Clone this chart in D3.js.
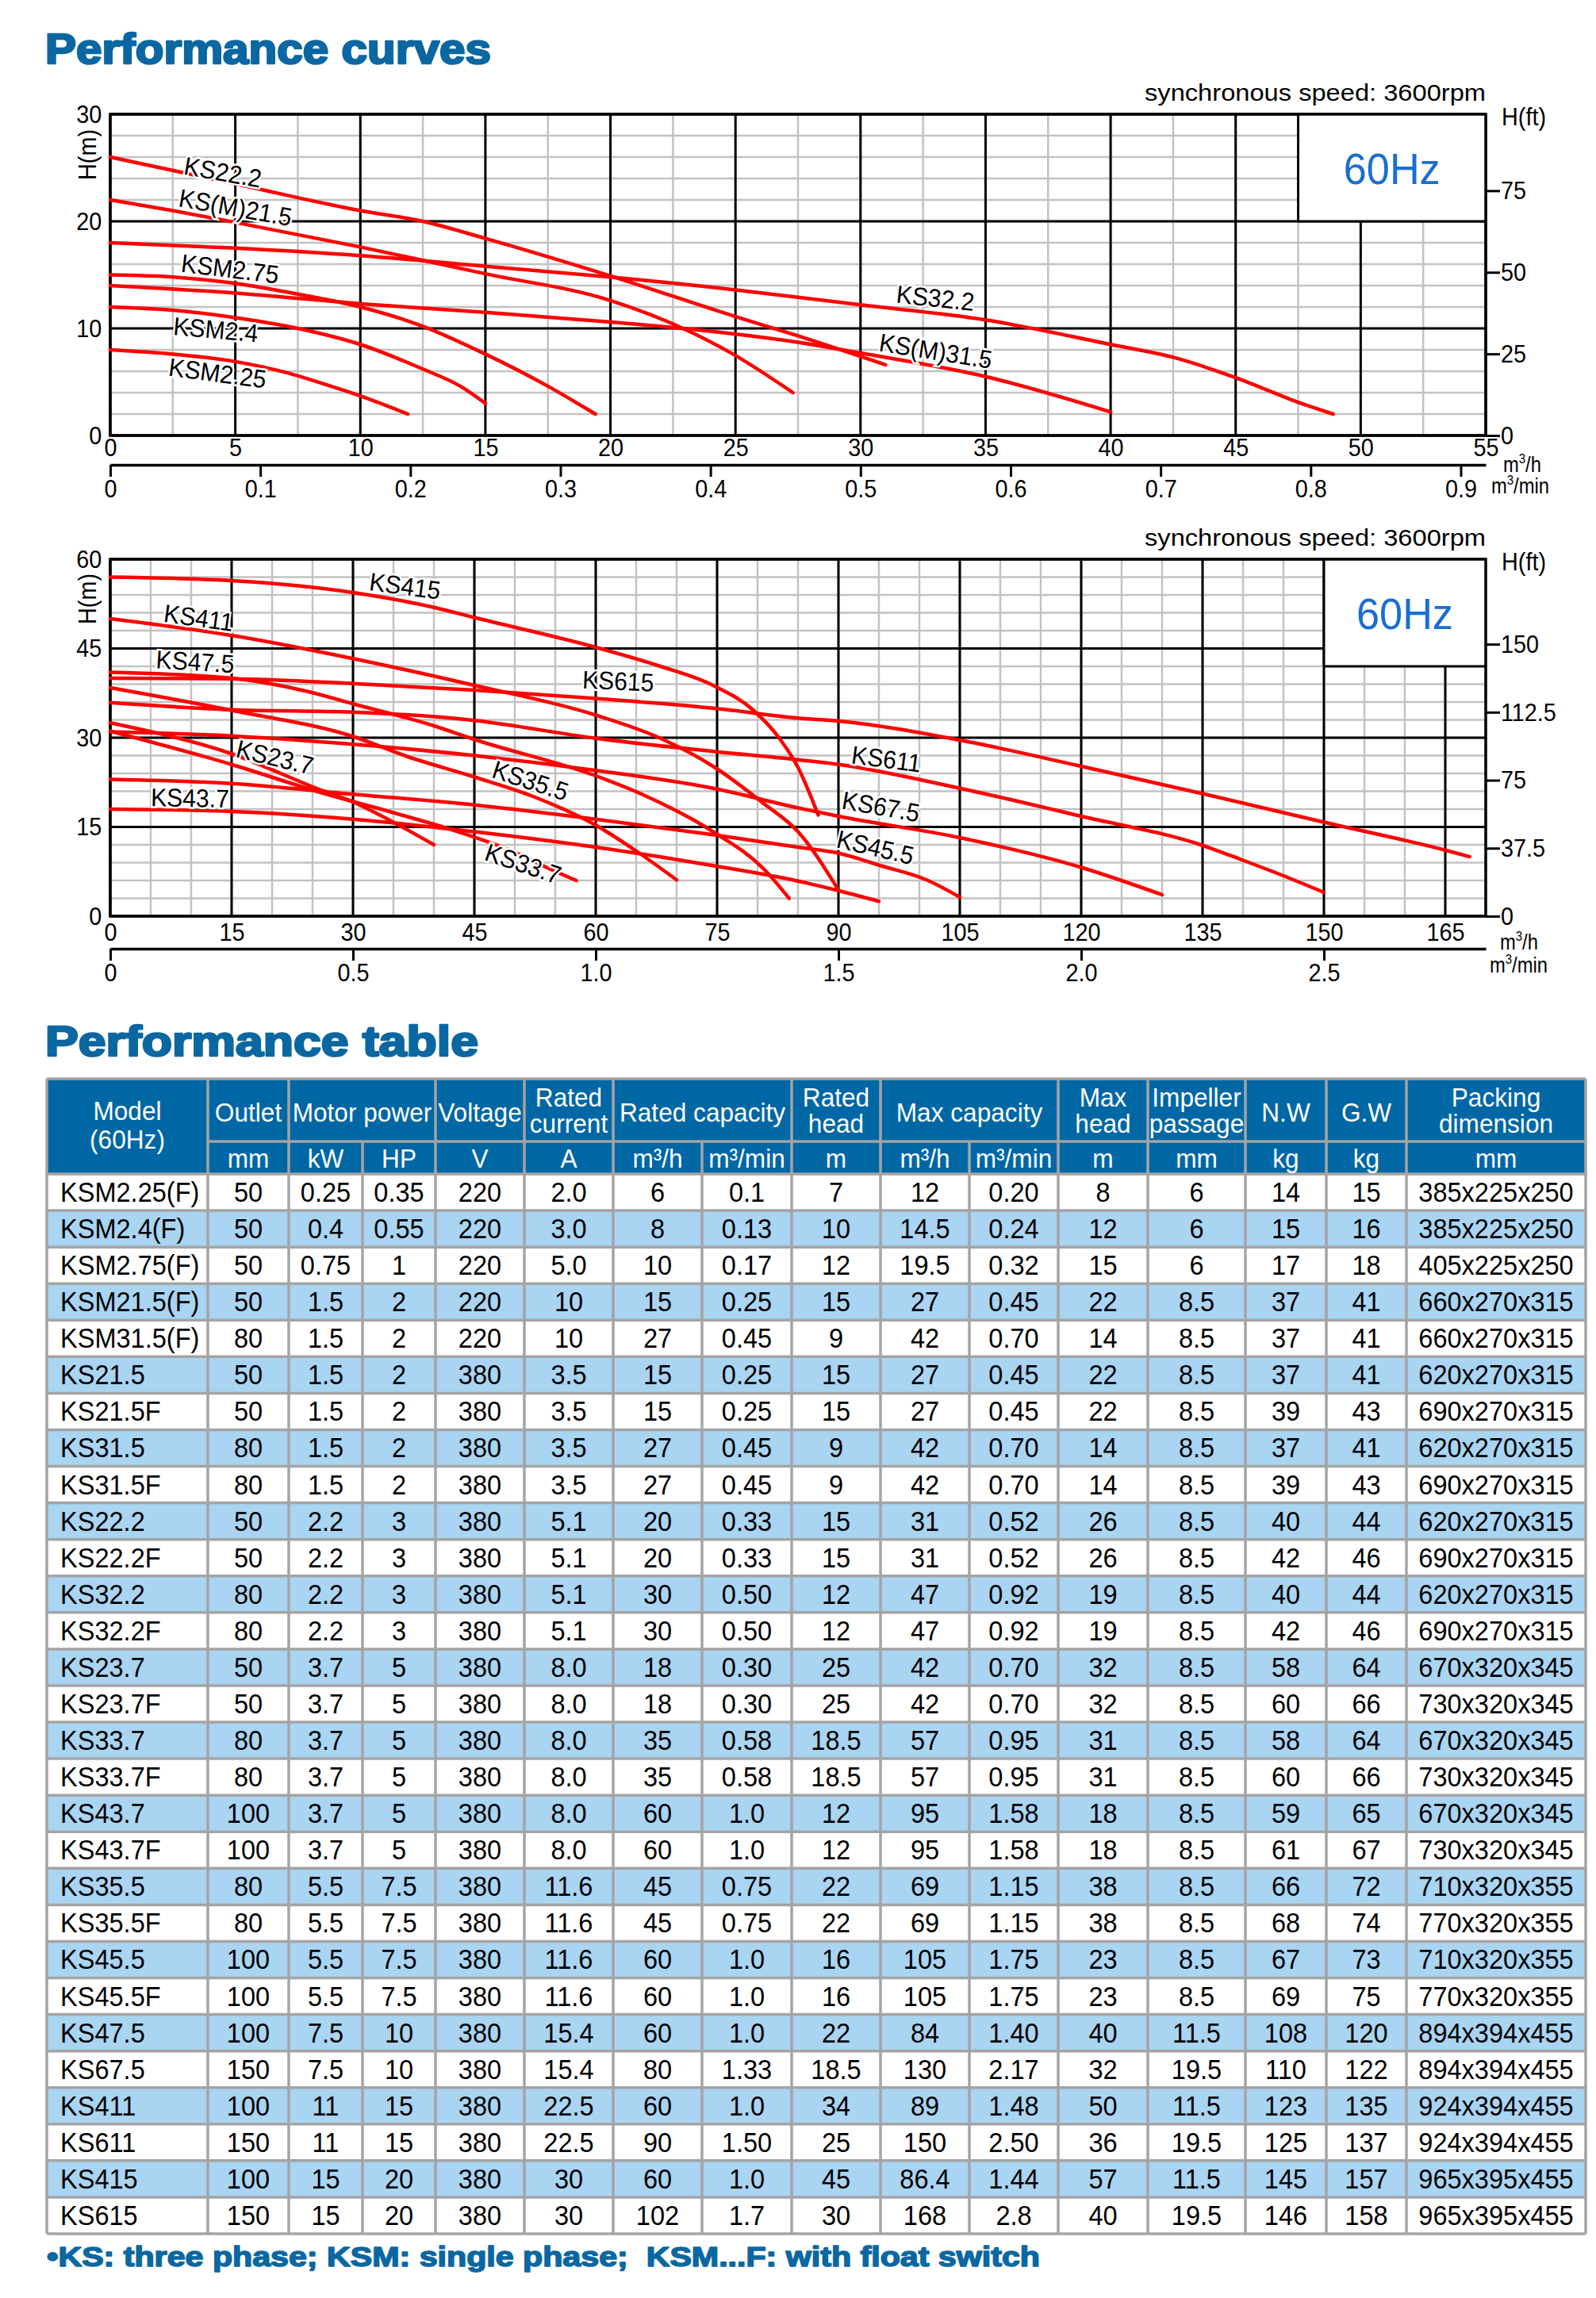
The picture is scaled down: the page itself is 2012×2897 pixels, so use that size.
<!DOCTYPE html>
<html>
<head>
<meta charset="utf-8">
<script src="https://cdn.jsdelivr.net/npm/d3@7"></script>
<style>
  body { margin: 0; background: #fff; }
  svg { display: block; }
</style>
</head>
<body>
<div id="chart"></div>
<script>
// ---------- curve data: [flow m3/h, head m] ----------
const ks222 = [[0, 26], [5, 23.5], [10, 21.0], [12.5, 20.0], [15, 18.4], [20, 14.9], [25, 11.1], [27.5, 9.3], [31, 6.6]];
const ksm215 = [[0, 22], [2.5, 21.0], [5, 19.9], [10, 17.6], [15, 15.1], [20, 12.6], [22.9, 10.0], [24.9, 7.6], [27.3, 4.0]];
const ks322 = [[0, 18], [5, 17.5], [10, 16.8], [15, 15.8], [20, 14.8], [25, 13.6], [27.5, 12.9], [30, 12.2], [35, 10.8], [40, 8.5], [42.5, 7.3], [45, 5.4], [47.5, 3.1], [48.9, 2.0]];
const ksm275 = [[0, 15], [2.5, 14.8], [5, 14.2], [7.5, 13.2], [10, 12.0], [12.5, 10.2], [15, 7.6], [17.5, 4.6], [19.4, 2.0]];
const ksm315 = [[0, 14], [5, 13.3], [10, 12.3], [15, 11.5], [20, 10.6], [22.9, 10.0], [27.5, 8.7], [30, 7.7], [35, 5.5], [40, 2.2]];
const ksm24 = [[0, 12], [2.5, 11.7], [5, 11.0], [7.5, 10.0], [10, 8.5], [12.5, 6.2], [14, 4.6], [15, 3.0]];
const ksm225 = [[0, 8.0], [2.5, 7.6], [5, 6.9], [7, 5.9], [8.7, 4.7], [10, 3.7], [11.9, 2.0]];

const ks415 = [[0, 57], [15, 56.4], [30, 54.4], [40, 51.9], [45, 50.2], [60, 45.2], [68, 42], [74.5, 38.8], [79.5, 34.6], [82.7, 29.9], [85, 25], [87.5, 17]];
const ks411 = [[0, 50], [15, 47.2], [30, 43.3], [45, 38.8], [60, 33.8], [68, 29.9], [74.5, 25.2], [80.8, 18.9], [85, 14.2], [90, 4.4]];
const ks615 = [[0, 40], [15, 39.9], [30, 39.1], [45, 38.0], [60, 36.6], [75, 34.9], [85, 33.3], [90, 32.8], [105, 29.6], [120, 25.2], [135, 20.6], [150, 15.8], [165, 11.1], [168, 10]];
const ks475 = [[0, 41], [15, 40], [24.3, 37.8], [30, 35.7], [40, 32], [45, 29.7], [60, 23.6], [65.7, 20.5], [74.5, 14.2], [80.8, 7.9], [83.9, 3.0]];
const ks611 = [[0, 35.9], [15, 34.7], [30, 34.3], [45, 32.9], [60, 29.9], [74.5, 27.7], [85, 26.3], [90, 25.5], [105, 21.5], [120, 16.8], [135, 11.9], [139.8, 9.5], [144.8, 6.9], [150, 4.0]];
const ks675 = [[0, 31], [15, 30.3], [30, 28.9], [45, 27.0], [60, 24.5], [74.5, 21.5], [85, 18.2], [90, 16.8], [105, 13.2], [120, 8.2], [130, 3.6]];
const ks355 = [[0, 38.4], [15, 34.6], [30, 30.2], [36.8, 26.8], [45, 23.4], [52.5, 20.0], [60, 15.3], [65.7, 10.3], [70, 6.1]];
const ks455 = [[0, 23], [15, 22.3], [30, 20.5], [45, 18.7], [60, 16.3], [74.5, 13.7], [85, 11.6], [90, 10.6], [95.2, 8.5], [100.9, 6.1], [105, 3.2]];
const ks237 = [[0, 32.5], [15, 27.3], [25.5, 21.5], [30, 19.2], [35, 15.8], [40, 12.0]];
const ks337 = [[0, 31.1], [15, 25.5], [25.5, 21.0], [35, 17.4], [43, 14.2], [49.4, 11.1], [54.4, 7.9], [57.6, 6.0]];
const ks437 = [[0, 18], [15, 17.6], [30, 16.3], [45, 14.2], [60, 11.6], [74.5, 8.5], [85, 5.9], [90, 4.3], [95, 2.5]];

// curve labels: text, anchor flow, anchor head, angle
const labels1 = [
  ['KS22.2', 2.9, 24.4, 10], ['KS(M)21.5', 2.7, 21.4, 10], ['KSM2.75', 2.8, 15.3, 7],
  ['KSM2.4', 2.5, 9.4, 5], ['KSM2.25', 2.3, 5.6, 7.5], ['KS32.2', 31.4, 12.4, 6], ['KS(M)31.5', 30.7, 7.9, 9]
];
const labels2 = [
  ['KS415', 31.9, 54.8, 7.5], ['KS411', 6.5, 49.5, 8], ['KS47.5', 5.6, 41.7, 3.5], ['KS615', 58.3, 38.3, 2.5],
  ['KS23.7', 15.4, 26.8, 13.5], ['KS35.5', 47.0, 23.4, 18], ['KS43.7', 5.0, 18.5, 1], ['KS33.7', 46.1, 9.5, 18.5],
  ['KS611', 91.5, 25.7, 7.5], ['KS67.5', 90.3, 18.1, 10], ['KS45.5', 89.6, 11.6, 13]
];

// tick labels
const flowTicks1 = [0, 5, 10, 15, 20, 25, 30, 35, 40, 45, 50, 55];
const headTicks1 = [0, 10, 20, 30];
const feetTicks1 = [0, 25, 50, 75];
const minTicks1 = [0, 0.1, 0.2, 0.3, 0.4, 0.5, 0.6, 0.7, 0.8, 0.9];
const flowTicks2 = [0, 15, 30, 45, 60, 75, 90, 105, 120, 135, 150, 165];
const headTicks2 = [0, 15, 30, 45, 60];
const feetTicks2 = [0, 37.5, 75, 112.5, 150];
const minTicks2 = [0, 0.5, 1.0, 1.5, 2.0, 2.5];

// ---------- table data ----------
const models = ['KSM2.25(F)', 'KSM2.4(F)', 'KSM2.75(F)', 'KSM21.5(F)', 'KSM31.5(F)', 'KS21.5', 'KS21.5F', 'KS31.5', 'KS31.5F', 'KS22.2', 'KS22.2F', 'KS32.2', 'KS32.2F', 'KS23.7', 'KS23.7F', 'KS33.7', 'KS33.7F', 'KS43.7', 'KS43.7F', 'KS35.5', 'KS35.5F', 'KS45.5', 'KS45.5F', 'KS47.5', 'KS67.5', 'KS411', 'KS611', 'KS415', 'KS615'];
const outlet = ['50', '50', '50', '50', '80', '50', '50', '80', '80', '50', '50', '80', '80', '50', '50', '80', '80', '100', '100', '80', '80', '100', '100', '100', '150', '100', '150', '100', '150'];
const powerKw = ['0.25', '0.4', '0.75', '1.5', '1.5', '1.5', '1.5', '1.5', '1.5', '2.2', '2.2', '2.2', '2.2', '3.7', '3.7', '3.7', '3.7', '3.7', '3.7', '5.5', '5.5', '5.5', '5.5', '7.5', '7.5', '11', '11', '15', '15'];
const powerHp = ['0.35', '0.55', '1', '2', '2', '2', '2', '2', '2', '3', '3', '3', '3', '5', '5', '5', '5', '5', '5', '7.5', '7.5', '7.5', '7.5', '10', '10', '15', '15', '20', '20'];
const voltage = ['220', '220', '220', '220', '220', '380', '380', '380', '380', '380', '380', '380', '380', '380', '380', '380', '380', '380', '380', '380', '380', '380', '380', '380', '380', '380', '380', '380', '380'];
const current = ['2.0', '3.0', '5.0', '10', '10', '3.5', '3.5', '3.5', '3.5', '5.1', '5.1', '5.1', '5.1', '8.0', '8.0', '8.0', '8.0', '8.0', '8.0', '11.6', '11.6', '11.6', '11.6', '15.4', '15.4', '22.5', '22.5', '30', '30'];
const ratedFlow = ['6', '8', '10', '15', '27', '15', '15', '27', '27', '20', '20', '30', '30', '18', '18', '35', '35', '60', '60', '45', '45', '60', '60', '60', '80', '60', '90', '60', '102'];
const ratedFlowMin = ['0.1', '0.13', '0.17', '0.25', '0.45', '0.25', '0.25', '0.45', '0.45', '0.33', '0.33', '0.50', '0.50', '0.30', '0.30', '0.58', '0.58', '1.0', '1.0', '0.75', '0.75', '1.0', '1.0', '1.0', '1.33', '1.0', '1.50', '1.0', '1.7'];
const ratedHead = ['7', '10', '12', '15', '9', '15', '15', '9', '9', '15', '15', '12', '12', '25', '25', '18.5', '18.5', '12', '12', '22', '22', '16', '16', '22', '18.5', '34', '25', '45', '30'];
const maxFlow = ['12', '14.5', '19.5', '27', '42', '27', '27', '42', '42', '31', '31', '47', '47', '42', '42', '57', '57', '95', '95', '69', '69', '105', '105', '84', '130', '89', '150', '86.4', '168'];
const maxFlowMin = ['0.20', '0.24', '0.32', '0.45', '0.70', '0.45', '0.45', '0.70', '0.70', '0.52', '0.52', '0.92', '0.92', '0.70', '0.70', '0.95', '0.95', '1.58', '1.58', '1.15', '1.15', '1.75', '1.75', '1.40', '2.17', '1.48', '2.50', '1.44', '2.8'];
const maxHead = ['8', '12', '15', '22', '14', '22', '22', '14', '14', '26', '26', '19', '19', '32', '32', '31', '31', '18', '18', '38', '38', '23', '23', '40', '32', '50', '36', '57', '40'];
const impeller = ['6', '6', '6', '8.5', '8.5', '8.5', '8.5', '8.5', '8.5', '8.5', '8.5', '8.5', '8.5', '8.5', '8.5', '8.5', '8.5', '8.5', '8.5', '8.5', '8.5', '8.5', '8.5', '11.5', '19.5', '11.5', '19.5', '11.5', '19.5'];
const netWeight = ['14', '15', '17', '37', '37', '37', '39', '37', '39', '40', '42', '40', '42', '58', '60', '58', '60', '59', '61', '66', '68', '67', '69', '108', '110', '123', '125', '145', '146'];
const grossWeight = ['15', '16', '18', '41', '41', '41', '43', '41', '43', '44', '46', '44', '46', '64', '66', '64', '66', '65', '67', '72', '74', '73', '75', '120', '122', '135', '137', '157', '158'];
const packing = ['385x225x250', '385x225x250', '405x225x250', '660x270x315', '660x270x315', '620x270x315', '690x270x315', '620x270x315', '690x270x315', '620x270x315', '690x270x315', '620x270x315', '690x270x315', '670x320x345', '730x320x345', '670x320x345', '730x320x345', '670x320x345', '730x320x345', '710x320x355', '770x320x355', '710x320x355', '770x320x355', '894x394x455', '894x394x455', '924x394x455', '924x394x455', '965x395x455', '965x395x455'];

const headerTitles = [['Model', '(60Hz)'], ['Outlet'], ['Motor power'], ['Voltage'], ['Rated', 'current'], ['Rated capacity'], ['Rated', 'head'], ['Max capacity'], ['Max', 'head'], ['Impeller', 'passage'], ['N.W'], ['G.W'], ['Packing', 'dimension']];
const headerSpans = [1, 1, 2, 1, 1, 2, 1, 2, 1, 1, 1, 1, 1];
const headerUnits = ['', 'mm', 'kW', 'HP', 'V', 'A', 'm³/h', 'm³/min', 'm', 'm³/h', 'm³/min', 'm', 'mm', 'kg', 'kg', 'mm'];

// ---------- drawing ----------
const FONT = "'Liberation Sans', Arial, Helvetica, sans-serif";
const TITLE_BLUE = '#0b67a1';
const RED = '#ff0000';

const svg = d3.select('#chart').append('svg').attr('width', 2012).attr('height', 2897);
svg.append('rect').attr('width', 2012).attr('height', 2897).attr('fill', '#fff');

function text(parent, x, y, str, o = {}) {
    const sx = o.sx === undefined ? 0.9 : o.sx;
    const t = parent.append('text')
        .attr('transform', `translate(${x},${y})` + (o.rotate ? ` rotate(${o.rotate})` : '') + ` scale(${sx},1)`)
        .attr('font-family', FONT)
        .attr('font-size', o.size || 32)
        .attr('font-weight', o.weight || 'normal')
        .attr('fill', o.fill || '#000')
        .attr('text-anchor', o.anchor || 'start')
        .style('white-space', 'pre')
        .text(str);
    if (o.len) t.attr('textLength', o.len).attr('lengthAdjust', 'spacingAndGlyphs');
    if (o.stroke) t.attr('stroke', o.stroke).attr('stroke-width', o.sw || 1).attr('stroke-linejoin', 'round');
    return t;
}

function styleAxis(g, size, sx) {
    g.attr('font-size', null).attr('font-family', null);
    g.selectAll('text')
        .attr('font-family', FONT)
        .attr('font-size', size)
        .attr('fill', '#000')
        .attr('transform', `scale(${sx},1)`);
}

const L = 139, R = 1873;

function drawChart(c) {
    const g = svg.append('g');
    const x = d3.scaleLinear().domain(c.xDomain).range([L, R]);
    const y = d3.scaleLinear().domain(c.yDomain).range([c.bottom, c.top]);

    // minor grid
    const minor = g.append('g').attr('stroke', '#c2c2c2').attr('stroke-width', 2.5);
    d3.range(c.xDomain[0], c.xDomain[1] + 0.01, c.xMinor).forEach(v => {
        minor.append('line').attr('x1', x(v)).attr('x2', x(v)).attr('y1', c.top).attr('y2', c.bottom);
    });
    d3.range(c.yDomain[0], c.yDomain[1] + 0.01, c.yMinor).forEach(v => {
        minor.append('line').attr('x1', L).attr('x2', R).attr('y1', y(v)).attr('y2', y(v));
    });
    // major grid
    const major = g.append('g').attr('stroke', '#000').attr('stroke-width', 3);
    c.xTicks.forEach(v => {
        major.append('line').attr('x1', x(v)).attr('x2', x(v)).attr('y1', c.top).attr('y2', c.bottom);
    });
    c.yTicks.forEach(v => {
        major.append('line').attr('x1', L).attr('x2', R).attr('y1', y(v)).attr('y2', y(v));
    });

    // 60Hz box
    const [bx0, bx1, by0, by1] = c.box;
    g.append('rect').attr('x', x(bx0)).attr('y', y(by1)).attr('width', x(bx1) - x(bx0)).attr('height', y(by0) - y(by1)).attr('fill', '#fff');
    g.append('line').attr('x1', x(bx0)).attr('x2', x(bx0)).attr('y1', y(by1)).attr('y2', y(by0)).attr('stroke', '#000').attr('stroke-width', 3);
    g.append('line').attr('x1', x(bx0)).attr('x2', x(bx1)).attr('y1', y(by0)).attr('y2', y(by0)).attr('stroke', '#000').attr('stroke-width', 3);
    text(g, (x(bx0) + x(bx1)) / 2, (y(by0) + y(by1)) / 2 + 20, '60Hz', { size: 55, fill: '#1a6ed2', anchor: 'middle', sx: 0.95 });

    // plot frame
    g.append('rect').attr('x', L).attr('y', c.top).attr('width', R - L).attr('height', c.bottom - c.top)
        .attr('fill', 'none').attr('stroke', '#000').attr('stroke-width', 3.5);

    // curves
    const line = d3.line().x(d => x(d[0])).y(d => y(d[1])).curve(d3.curveMonotoneX);
    g.append('g').selectAll('path').data(c.curves).enter().append('path')
        .attr('d', d => line(d))
        .attr('fill', 'none').attr('stroke', RED).attr('stroke-width', 4.5).attr('stroke-linecap', 'round');

    // curve labels
    c.labels.forEach(([s, q, h, a]) => {
        text(g, x(q), y(h), s, { size: 32, sx: 0.94, rotate: a })
            .attr('stroke', '#fff').attr('stroke-width', 5).attr('paint-order', 'stroke');
    });

    // flow axis (m3/h)
    const ax = g.append('g').attr('transform', `translate(0,${c.bottom})`)
        .call(d3.axisBottom(x).tickValues(c.xTicks).tickSize(0).tickPadding(c.xPad).tickFormat(d => String(d)));
    ax.select('.domain').remove();
    styleAxis(ax, 32, 0.9);

    // head axis (m)
    const ay = g.append('g').attr('transform', `translate(${L},0)`)
        .call(d3.axisLeft(y).tickValues(c.yTicks).tickSize(0).tickPadding(12).tickFormat(d => String(d)));
    ay.select('.domain').remove();
    styleAxis(ay, 32, 0.9);

    // head axis (ft)
    const ft = d3.scaleLinear().domain([0, c.yDomain[1] / 0.3048]).range([c.bottom, c.top]);
    const af = g.append('g').attr('transform', `translate(${R},0)`)
        .call(d3.axisRight(ft).tickValues(c.ftTicks).tickSize(18).tickPadding(3).tickFormat(d => String(d)));
    af.select('.domain').remove();
    af.selectAll('line').attr('stroke', '#000').attr('stroke-width', 3);
    styleAxis(af, 32, 0.9);

    // flow axis (m3/min)
    const mm = d3.scaleLinear().domain([0, c.xDomain[1] / 60]).range([L, R]);
    const am = g.append('g').attr('transform', `translate(0,${c.minAxisY})`)
        .call(d3.axisBottom(mm).tickValues(c.minTicks).tickSize(15).tickSizeOuter(0).tickPadding(3)
            .tickFormat(d => d === 0 ? '0' : d.toFixed(1)));
    am.select('.domain').attr('stroke', '#000').attr('stroke-width', 3.5);
    am.selectAll('line').attr('stroke', '#000').attr('stroke-width', 3);
    styleAxis(am, 32, 0.9);

    // axis titles
    text(g, R, c.top - 17, 'synchronous speed: 3600rpm', { size: 30, anchor: 'end', sx: 1, len: 430 });
    text(g, 1893, c.top + 14, 'H(ft)', { size: 32, sx: 0.9 });
    text(g, 121, c.hmY, 'H(m)', { size: 32, sx: 0.9, rotate: -90, anchor: 'middle' });
    const t1 = text(g, c.m3hX, c.m3hY, '', { size: 27, sx: 0.88 });
    t1.append('tspan').text('m');
    t1.append('tspan').attr('font-size', 17).attr('dy', -11).text('3');
    t1.append('tspan').attr('dy', 11).text('/h');
    const t2 = text(g, c.m3mX, c.m3mY, '', { size: 27, sx: 0.88 });
    t2.append('tspan').text('m');
    t2.append('tspan').attr('font-size', 17).attr('dy', -11).text('3');
    t2.append('tspan').attr('dy', 11).text('/min');
}

// titles
text(svg, 57, 80, 'Performance curves', { size: 53, weight: 'bold', fill: TITLE_BLUE, sx: 1, len: 562, stroke: TITLE_BLUE, sw: 2.6 });

drawChart({
    top: 144, bottom: 549, xDomain: [0, 55], yDomain: [0, 30], xMinor: 2.5, yMinor: 2,
    xTicks: flowTicks1, yTicks: headTicks1, ftTicks: feetTicks1, minTicks: minTicks1,
    box: [47.5, 55, 20, 30], xPad: 3, minAxisY: 586, hmY: 195,
    m3hX: 1895, m3hY: 595, m3mX: 1880, m3mY: 622,
    curves: [ks222, ksm215, ks322, ksm275, ksm315, ksm24, ksm225],
    labels: labels1
});

drawChart({
    top: 705, bottom: 1155, xDomain: [0, 170], yDomain: [0, 60], xMinor: 5, yMinor: 3,
    xTicks: flowTicks2, yTicks: headTicks2, ftTicks: feetTicks2, minTicks: minTicks2,
    box: [150, 170, 42, 60], xPad: 8, minAxisY: 1196, hmY: 755,
    m3hX: 1891, m3hY: 1197, m3mX: 1878, m3mY: 1226,
    curves: [ks415, ks411, ks615, ks475, ks611, ks675, ks355, ks455, ks237, ks337, ks437],
    labels: labels2
});

// ---------- table ----------
text(svg, 57, 1331, 'Performance table', { size: 53, weight: 'bold', fill: TITLE_BLUE, sx: 1, len: 546, stroke: TITLE_BLUE, sw: 2.6 });

const colEdges = [59, 262, 364, 457, 549, 661, 773, 885, 998, 1110, 1222, 1334, 1447, 1570, 1672, 1773, 1999];
const tTop = 1360, tMid = 1439, tBody = 1480, tBottom = 2816;
const columns = [models, outlet, powerKw, powerHp, voltage, current, ratedFlow, ratedFlowMin, ratedHead, maxFlow, maxFlowMin, maxHead, impeller, netWeight, grossWeight, packing];
const rowY = d3.scaleBand().domain(d3.range(models.length)).range([tBody, tBottom]);
const GRID = '#a4a4a4';
const tbl = svg.append('g');

tbl.append('rect').attr('x', colEdges[0]).attr('y', tTop).attr('width', colEdges[16] - colEdges[0]).attr('height', tBody - tTop).attr('fill', '#0067a5');
tbl.selectAll('rect.row').data(models).enter().append('rect').attr('class', 'row')
    .attr('x', colEdges[0]).attr('y', (d, i) => rowY(i)).attr('width', colEdges[16] - colEdges[0]).attr('height', rowY.bandwidth())
    .attr('fill', (d, i) => i % 2 ? '#a9d4f2' : '#fff');

const grid = tbl.append('g').attr('stroke', GRID).attr('stroke-width', 3.5);
// body lines
d3.range(models.length + 1).forEach(i => {
    const yy = tBody + i * rowY.bandwidth();
    grid.append('line').attr('x1', colEdges[0]).attr('x2', colEdges[16]).attr('y1', yy).attr('y2', yy);
});
colEdges.forEach(xx => grid.append('line').attr('x1', xx).attr('x2', xx).attr('y1', tMid).attr('y2', tBottom));
grid.append('line').attr('x1', colEdges[1]).attr('x2', colEdges[16]).attr('y1', tMid).attr('y2', tMid);
grid.append('line').attr('x1', colEdges[0]).attr('x2', colEdges[16]).attr('y1', tTop).attr('y2', tTop);
grid.append('line').attr('x1', colEdges[0]).attr('x2', colEdges[0]).attr('y1', tTop).attr('y2', tMid);
// model cell covers both header rows
tbl.append('rect').attr('x', colEdges[0] + 2).attr('y', tMid - 2).attr('width', colEdges[1] - colEdges[0] - 4).attr('height', tBody - tMid).attr('fill', '#0067a5');

// header groups
let ci = 0;
headerTitles.forEach((lines, k) => {
    const c0 = ci, c1 = ci + headerSpans[k];
    ci = c1;
    grid.append('line').attr('x1', colEdges[c1]).attr('x2', colEdges[c1]).attr('y1', tTop).attr('y2', tMid);
    const cx = (colEdges[c0] + colEdges[c1]) / 2;
    if (k === 0) {
        text(tbl, cx, 1412, lines[0], { size: 34, sx: 0.93, fill: '#fff', anchor: 'middle' });
        text(tbl, cx, 1448, lines[1], { size: 34, sx: 0.93, fill: '#fff', anchor: 'middle' });
    } else if (lines.length === 2) {
        text(tbl, cx, 1395, lines[0], { size: 34, sx: 0.93, fill: '#fff', anchor: 'middle' });
        text(tbl, cx, 1428, lines[1], { size: 34, sx: 0.93, fill: '#fff', anchor: 'middle' });
    } else {
        text(tbl, cx, 1414, lines[0], { size: 34, sx: 0.93, fill: '#fff', anchor: 'middle' });
    }
});
headerUnits.forEach((u, j) => {
    if (!u) return;
    text(tbl, (colEdges[j] + colEdges[j + 1]) / 2, 1472, u, { size: 34, sx: 0.93, fill: '#fff', anchor: 'middle' });
});

// body cells
columns.forEach((col, j) => {
    col.forEach((v, i) => {
        if (j === 0) {
            text(tbl, 76, rowY(i) + 35, v, { size: 35, sx: 0.93 });
        } else {
            text(tbl, (colEdges[j] + colEdges[j + 1]) / 2, rowY(i) + 35, v, { size: 35, sx: 0.93, anchor: 'middle' });
        }
    });
});

// footnote
text(svg, 59, 2857, '\u2022KS: three phase; KSM: single phase;  KSM...F: with float switch',
    { size: 35, weight: 'bold', fill: TITLE_BLUE, sx: 1, len: 1252, stroke: TITLE_BLUE, sw: 1.6 });
</script>
</body>
</html>
